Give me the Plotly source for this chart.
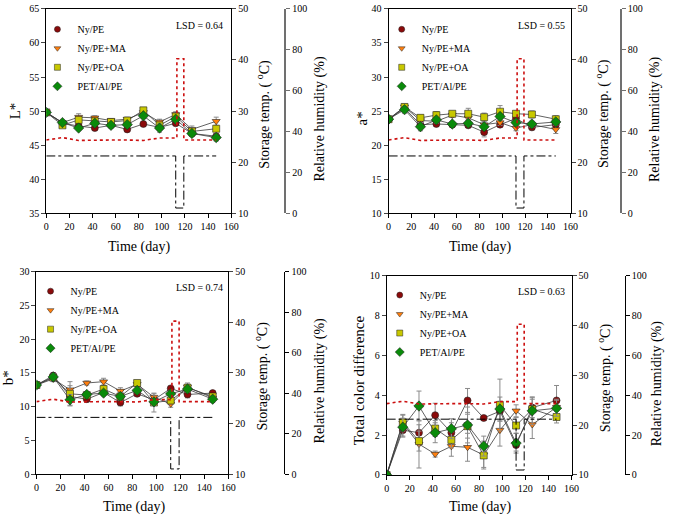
import plotly.graph_objects as go

# ---------------- data ----------------
days = [0, 14, 28, 42, 56, 70, 84, 98, 112, 126, 147]
series_names = ["Ny/PE", "Ny/PE+MA", "Ny/PE+OA", "PET/Al/PE"]

# storage environment
temp_days = [0, 112, 112, 119, 119, 147]
temp_vals = [21.2, 21.2, 11.0, 11.0, 21.2, 21.2]
rh_days = [0, 14, 28, 42, 56, 70, 84, 98, 112, 113, 113, 119, 119, 126, 147]
rh_vals = [35.8, 37.0, 35.6, 35.8, 35.8, 35.8, 35.6, 36.8, 36.8, 36.8, 75.6, 75.6, 35.8, 35.8, 35.8]

# L*
L_NyPE = [49.8, 48.2, 47.8, 47.5, 47.9, 47.3, 48.1, 47.6, 48.2, 46.7, 46.3]
L_MA = [49.8, 48.3, 49.1, 49.0, 48.6, 48.8, 49.8, 48.4, 49.5, 47.3, 48.5]
L_OA = [49.8, 47.9, 48.7, 48.5, 48.4, 48.6, 50.1, 47.9, 49.2, 47.0, 47.4]
L_PET = [49.8, 48.3, 47.5, 48.2, 47.9, 48.0, 49.3, 47.5, 48.8, 46.7, 46.1]
L_NyPE_err = [0.2, 0.3, 0.3, 0.3, 0.3, 0.3, 0.3, 0.4, 0.3, 0.4, 0.4]
L_MA_err = [0.2, 0.3, 0.5, 0.3, 0.3, 0.3, 0.3, 0.4, 0.4, 0.5, 0.6]
L_OA_err = [0.2, 0.3, 0.4, 0.3, 0.3, 0.3, 0.3, 0.4, 0.3, 0.5, 0.4]
L_PET_err = [0.2, 0.3, 0.3, 0.3, 0.3, 0.3, 0.4, 0.6, 0.3, 0.4, 0.5]

# a*
a_NyPE = [23.8, 25.4, 23.0, 23.1, 23.0, 22.9, 21.9, 23.0, 23.9, 22.6, 23.0]
a_MA = [23.8, 25.6, 23.6, 23.5, 24.4, 24.0, 23.0, 23.3, 22.5, 23.0, 22.3]
a_OA = [23.8, 25.6, 24.0, 24.4, 24.6, 24.6, 24.1, 24.9, 24.6, 24.5, 23.8]
a_PET = [23.8, 25.2, 22.7, 23.7, 23.1, 23.2, 22.7, 24.2, 23.3, 23.1, 23.4]
a_NyPE_err = [0.2, 0.4, 0.4, 0.3, 0.3, 0.3, 0.7, 0.3, 0.4, 0.4, 0.4]
a_MA_err = [0.2, 0.4, 0.4, 0.3, 0.3, 0.4, 0.4, 0.4, 0.4, 0.4, 0.6]
a_OA_err = [0.2, 0.4, 0.4, 0.5, 0.3, 0.8, 0.6, 0.9, 0.4, 0.5, 0.5]
a_PET_err = [0.2, 0.5, 0.6, 0.4, 0.3, 0.4, 0.4, 0.4, 0.4, 0.4, 0.4]

# b*
b_NyPE = [13.2, 14.6, 11.5, 11.1, 12.1, 10.6, 11.9, 11.0, 12.7, 11.8, 12.0]
b_MA = [13.2, 14.1, 12.5, 13.5, 13.7, 12.3, 13.3, 11.4, 10.4, 12.9, 11.3]
b_OA = [13.2, 14.3, 11.9, 11.7, 12.6, 11.5, 13.5, 10.6, 10.9, 12.8, 11.5]
b_PET = [13.2, 14.4, 11.0, 11.8, 12.0, 11.5, 12.4, 10.7, 11.9, 12.6, 11.1]
b_NyPE_err = [0.2, 0.4, 0.5, 0.4, 0.4, 0.5, 0.3, 0.5, 0.3, 0.5, 0.3]
b_MA_err = [0.2, 0.4, 0.6, 0.3, 0.5, 0.5, 0.3, 0.5, 0.5, 0.6, 0.4]
b_OA_err = [0.2, 0.4, 1.8, 0.5, 0.5, 0.5, 0.3, 1.4, 0.5, 0.5, 0.4]
b_PET_err = [0.2, 0.5, 0.8, 0.4, 0.4, 0.5, 0.4, 0.5, 0.5, 0.5, 0.5]

# Total colour difference
E_NyPE = [0.0, 2.25, 2.12, 3.0, 2.12, 3.74, 2.86, 3.2, 1.5, 3.38, 3.74]
E_MA = [0.0, 2.6, 1.55, 1.05, 1.44, 1.39, 1.0, 2.25, 3.22, 2.53, 3.4]
E_OA = [0.0, 2.64, 1.7, 2.33, 1.76, 2.45, 0.98, 3.51, 2.48, 3.3, 2.91]
E_PET = [0.0, 2.4, 3.46, 2.12, 2.32, 2.51, 1.45, 3.31, 1.6, 3.22, 3.35]
E_NyPE_err = [0.0, 0.35, 0.4, 0.6, 0.5, 0.6, 0.1, 0.5, 0.3, 0.5, 0.75]
E_MA_err = [0.0, 0.4, 1.2, 0.15, 0.5, 0.7, 0.7, 0.8, 0.3, 0.7, 0.4]
E_OA_err = [0.0, 0.4, 0.5, 0.4, 0.4, 0.6, 0.6, 1.3, 0.4, 0.5, 0.3]
E_PET_err = [0.0, 0.45, 0.75, 0.5, 0.5, 0.9, 0.5, 0.6, 0.5, 0.7, 0.4]

ylabels = ["L*", "a*", "b*", "Total color difference"]
lsd_texts = ["LSD = 0.64", "LSD = 0.55", "LSD = 0.74", "LSD = 0.63"]
y_ranges = [[35, 65], [10, 40], [0, 30], [0, 10]]
y_dticks = [5, 5, 5, 2]

panel_vals = [[L_NyPE, L_MA, L_OA, L_PET], [a_NyPE, a_MA, a_OA, a_PET],
              [b_NyPE, b_MA, b_OA, b_PET], [E_NyPE, E_MA, E_OA, E_PET]]
panel_errs = [[L_NyPE_err, L_MA_err, L_OA_err, L_PET_err],
              [a_NyPE_err, a_MA_err, a_OA_err, a_PET_err],
              [b_NyPE_err, b_MA_err, b_OA_err, b_PET_err],
              [E_NyPE_err, E_MA_err, E_OA_err, E_PET_err]]

# ---------------- style / layout ----------------
W, H = 674, 523
FONT = "Liberation Serif, Times New Roman, serif"
colors = ["#8B0A0A", "#FF7F0E", "#C8C800", "#0A8A0A"]
symbols = ["circle", "triangle-down", "square", "diamond"]

# pixel geometry of each panel: (left, right, top, bottom, rh_axis_x)
geom = [(44, 232, 3, 212, 287),
        (392, 577, 3, 212, 628),
        (34, 229, 272, 479, 286),
        (390, 578, 276, 480, 632)]
rh_line_colors = ["#707070", "#707070", "black", "black"]
ylabel_px = [(12, 107), (365, 115), (5, 380), (362, 383)]
temp_title_px = [265, 610, 263, 611]
rh_title_px = [322, 663, 322, 665]
time_title_px = [(138, 247), (485, 247), (133, 513), (485, 513)]
lsd_px = [(200, 20), (547, 20), (200, 288), (547, 292)]
legend_px = [(35, 9), (385, 9), (28, 277), (383, 281)]


def px(x):
    return x / W


def py(y):
    return 1 - y / H


fig = go.Figure()
layout = dict(
    width=W, height=H, margin=dict(l=0, r=0, t=0, b=0),
    paper_bgcolor="white", plot_bgcolor="white",
    font=dict(family=FONT, size=10, color="black"),
    showlegend=True,
)
annotations = []

for i in range(4):
    n = i + 1
    xa = "x" if n == 1 else f"x{n}"
    ym = 3 * i + 1
    yt = 3 * i + 2
    yr = 3 * i + 3
    yname = lambda k: "y" if k == 1 else f"y{k}"
    l, r, t, b, rhx = geom[i]
    legname = "legend" if n == 1 else f"legend{n}"

    layout["xaxis" if n == 1 else f"xaxis{n}"] = dict(
        domain=[px(l), px(r)], anchor=yname(ym), range=[0, 160], dtick=20,
        showline=True, linecolor="black", linewidth=1, mirror=True,
        ticks="outside", ticklen=4, tickcolor="black", showgrid=False, zeroline=False,
        tickfont=dict(size=10, family=FONT))
    layout["yaxis" if ym == 1 else f"yaxis{ym}"] = dict(
        domain=[py(b), py(t)], anchor=xa, range=y_ranges[i], dtick=y_dticks[i],
        showline=True, linecolor="black", linewidth=1, ticks="outside", ticklen=4,
        showgrid=False, zeroline=False, tickfont=dict(size=10, family=FONT))
    layout[f"yaxis{yt}"] = dict(
        overlaying=yname(ym), anchor=xa, side="right", range=[10, 50], dtick=10,
        showline=True, linecolor="black", linewidth=1, ticks="outside", ticklen=4,
        showgrid=False, zeroline=False, tickfont=dict(size=10, family=FONT))
    layout[f"yaxis{yr}"] = dict(
        overlaying=yname(ym), anchor="free", position=px(rhx), side="right",
        range=[0, 100], dtick=20, showline=True, linecolor=rh_line_colors[i],
        linewidth=2 if i < 2 else 1.2, ticks="outside", ticklen=4,
        tickcolor=rh_line_colors[i],
        showgrid=False, zeroline=False, tickfont=dict(size=10, family=FONT))

    lx, ly = legend_px[i]
    layout[legname] = dict(x=px(lx), y=py(ly), xanchor="left", yanchor="top",
                           bgcolor="rgba(0,0,0,0)", font=dict(size=10, family=FONT),
                           itemwidth=30, tracegroupgap=0)

    # environment lines
    fig.add_trace(go.Scatter(x=rh_days, y=rh_vals, mode="lines", xaxis=xa, yaxis=yname(yr),
                             line=dict(color="#CC1010", width=1.6, dash="dot"),
                             showlegend=False, hoverinfo="skip"))
    fig.add_trace(go.Scatter(x=temp_days, y=temp_vals, mode="lines", xaxis=xa, yaxis=yname(yt),
                             line=dict(color="black", width=1, dash="dashdot"),
                             showlegend=False, hoverinfo="skip"))

    # data series
    for s in range(4):
        fig.add_trace(go.Scatter(
            x=days, y=panel_vals[i][s], mode="lines+markers", xaxis=xa, yaxis=yname(ym),
            line=dict(color="#3a3a3a", width=0.8),
            marker=dict(symbol=symbols[s], color=colors[s], size=7 if s != 3 else 8,
                        line=dict(color="#222", width=0.6)),
            error_y=dict(type="data", array=panel_errs[i][s], color="#8a8a8a",
                         thickness=1, width=2.5),
            name=series_names[s], showlegend=False))
    # legend entries
    for s in range(4):
        fig.add_trace(go.Scatter(
            x=[None], y=[None], mode="markers", xaxis=xa, yaxis=yname(ym),
            marker=dict(symbol=symbols[s], color=colors[s], size=6 if s != 3 else 7,
                        line=dict(color="#222", width=0.5)),
            name=series_names[s], legend=legname, showlegend=True))

    # texts
    yx, yy = ylabel_px[i]
    annotations.append(dict(x=px(yx), y=py(yy), xref="paper", yref="paper",
                            text=ylabels[i], textangle=-90, showarrow=False,
                            font=dict(size=15, family=FONT), xanchor="center", yanchor="middle"))
    mid = (t + b) / 2
    annotations.append(dict(x=px(temp_title_px[i]), y=py(mid + 3), xref="paper", yref="paper",
                            text="Storage temp. ( <sup>o</sup>C)", textangle=-90, showarrow=False,
                            font=dict(size=14, family=FONT), xanchor="center", yanchor="middle"))
    annotations.append(dict(x=px(rh_title_px[i]), y=py(mid + 8), xref="paper", yref="paper",
                            text="Relative humidity (%)", textangle=-90, showarrow=False,
                            font=dict(size=14, family=FONT), xanchor="center", yanchor="middle"))
    tx, ty = time_title_px[i]
    annotations.append(dict(x=px(tx), y=py(ty), xref="paper", yref="paper",
                            text="Time (day)", showarrow=False,
                            font=dict(size=14, family=FONT), xanchor="center", yanchor="middle"))
    sx, sy = lsd_px[i]
    annotations.append(dict(x=px(sx), y=py(sy), xref="paper", yref="paper",
                            text=lsd_texts[i], showarrow=False,
                            font=dict(size=10, family=FONT), xanchor="center", yanchor="middle"))

layout["annotations"] = annotations
fig.update_layout(**layout)
fig.write_html("out.html", config={"displayModeBar": False},
               post_script="document.body.style.margin='0';document.body.style.overflow='hidden';")
